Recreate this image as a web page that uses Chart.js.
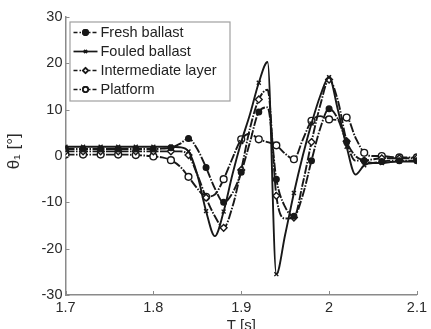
<!DOCTYPE html>
<html>
<head>
<meta charset="utf-8">
<script src="https://cdn.jsdelivr.net/npm/chart.js@4"></script>
<style>
  html, body { margin: 0; padding: 0; background: #fff; }
  #theta_chart { display: block; }
</style>
</head>
<body>
<canvas id="theta_chart" width="431" height="329"></canvas>
<script>
// Time axis (s)
const times = [1.70, 1.71, 1.72, 1.73, 1.74, 1.75, 1.76, 1.77, 1.78, 1.79,
               1.80, 1.81, 1.82, 1.83, 1.84, 1.85, 1.86, 1.87, 1.88, 1.89,
               1.90, 1.91, 1.92, 1.93, 1.94, 1.95, 1.96, 1.97, 1.98, 1.99,
               2.00, 2.01, 2.02, 2.03, 2.04, 2.05, 2.06, 2.07, 2.08, 2.09, 2.10];

// theta_1 in degrees
const fresh_ballast = [1.5, 1.5, 1.5, 1.5, 1.5, 1.5, 1.5, 1.5, 1.5, 1.5,
                       1.5, 1.6, 1.8, 2.6, 3.8, 1.5, -2.5, -7, -10, -8,
                       -3.5, 3, 9.5, 10.5, -5, -11, -13, -8.5, -1, 6,
                       10.2, 8, 3, 0, -1, -1.5, -1.2, -1, -1, -1, -1];
const fouled_ballast = [2, 2, 2, 2, 2, 2, 2, 2, 2, 2,
                        2, 2, 2, 1.9, 1.0, -4, -11.9, -17.3, -12, -4,
                        3, 9, 15.8, 20.3, -25.5, -17, -8, 0, 7, 13,
                        17, 10, 2, -4, -2, -1.5, -1.5, -1.3, -1.2, -1.2, -1.2];
const intermediate_layer = [1, 1, 1, 1, 1, 1, 1, 1, 1, 1,
                            1, 1, 1, 1, 0.2, -4, -9, -13, -15.5, -11,
                            -3, 6, 12.2, 14.3, -8.6, -13.5, -13.3, -6, 3, 11,
                            16.5, 12, 3.2, -1, -1, -0.7, -0.5, -0.5, -0.5, -0.5, -0.5];
const platform = [0.3, 0.3, 0.3, 0.3, 0.3, 0.3, 0.3, 0.3, 0.2, 0.1,
                  -0.1, -0.3, -0.9, -2.2, -4.5, -7, -8.8, -8.3, -5, -0.5,
                  3.6, 4.8, 3.6, 3, 2.3, 0.5, -0.7, 3.5, 7.6, 8.6,
                  7.9, 7.8, 8.3, 4, 0.7, 0, 0, -0.2, -0.3, -0.3, -0.3];

const series_labels = ["Fresh ballast", "Fouled ballast", "Intermediate layer", "Platform"];
const y_ticks = [-30, -20, -10, 0, 10, 20, 30];
const x_ticks = [1.7, 1.8, 1.9, 2.0, 2.1];

const ink = "#181818";
const axis_grey = "#8a8a8a";
const dash_dot = [9, 1.5, 1.5, 1.5];

// markers only on every second sample, like the original plot
function every_other(r) {
  return ctx => (ctx.dataIndex % 2 === 0 ? r : 0);
}

const base_dataset_config = {
  borderColor: ink,
  borderWidth: 1.9,
  pointBorderColor: ink,
  pointBorderWidth: 1.4,
  cubicInterpolationMode: "monotone",
  fill: false
};

function make_points(values) {
  return times.map((t, i) => ({x: t, y: values[i]}));
}

var data = {
  datasets: [{
    ...base_dataset_config,
    label: series_labels[0],
    data: make_points(fresh_ballast),
    borderDash: dash_dot,
    pointStyle: "circle",
    pointBackgroundColor: ink,
    pointRadius: every_other(2.8)
  },
  {
    ...base_dataset_config,
    label: series_labels[1],
    data: make_points(fouled_ballast),
    borderDash: [],
    pointStyle: "crossRot",
    pointBackgroundColor: ink,
    pointRadius: every_other(2.8)
  },
  {
    ...base_dataset_config,
    label: series_labels[2],
    data: make_points(intermediate_layer),
    borderDash: dash_dot,
    pointStyle: "rectRot",
    pointBackgroundColor: "#fff",
    pointRadius: every_other(3.4)
  },
  {
    ...base_dataset_config,
    label: series_labels[3],
    data: make_points(platform),
    borderDash: dash_dot,
    pointStyle: "circle",
    pointBackgroundColor: "#fff",
    pointRadius: every_other(3.4)
  }]
};

// small inward tick marks, matlab style
const inward_ticks = {
  id: "inward_ticks",
  afterDatasetsDraw(chart) {
    const {ctx, chartArea, scales} = chart;
    ctx.save();
    ctx.strokeStyle = axis_grey;
    ctx.lineWidth = 1;
    y_ticks.forEach(v => {
      const y = Math.round(scales.y.getPixelForValue(v)) + 0.5;
      ctx.beginPath();
      ctx.moveTo(chartArea.left, y);
      ctx.lineTo(chartArea.left + 4, y);
      ctx.stroke();
    });
    x_ticks.forEach(v => {
      const x = Math.round(scales.x.getPixelForValue(v)) + 0.5;
      ctx.beginPath();
      ctx.moveTo(x, chartArea.bottom);
      ctx.lineTo(x, chartArea.bottom - 4);
      ctx.stroke();
    });
    ctx.restore();
  }
};

// boxed legend inside the axes, top left
const boxed_legend = {
  id: "boxed_legend",
  afterDraw(chart) {
    const {ctx, chartArea} = chart;
    const left = chartArea.left + 4;
    const top = chartArea.top + 4.5;
    const w = 160, row = 19;
    ctx.save();
    ctx.fillStyle = "#fff";
    ctx.fillRect(left, top, w, row * 4 + 3);
    ctx.strokeStyle = "#a0a0a0";
    ctx.lineWidth = 1.2;
    ctx.strokeRect(left + 0.5, top + 0.5, w, row * 4 + 3);
    ctx.font = "14.5px 'Liberation Sans', Arial, sans-serif";
    ctx.textBaseline = "middle";
    chart.data.datasets.forEach((ds, i) => {
      const y = top + 11 + i * row;
      ctx.strokeStyle = ink;
      ctx.lineWidth = 1.7;
      ctx.setLineDash(i === 1 ? [] : [4, 2, 1.5, 2]);
      ctx.beginPath();
      ctx.moveTo(left + 4, y);
      ctx.lineTo(left + 28, y);
      ctx.stroke();
      ctx.setLineDash([]);
      Chart.helpers.drawPoint(ctx, {
        pointStyle: ds.pointStyle,
        radius: i === 1 ? 2 : 2.6,
        rotation: 0,
        borderWidth: 1.2
      }, left + 16, y);
      ctx.fillStyle = ds.pointBackgroundColor;
      ctx.strokeStyle = ink;
      ctx.fill();
      ctx.stroke();
      ctx.fillStyle = "#222";
      ctx.fillText(ds.label, left + 31, y + 0.5);
    });
    ctx.restore();
  }
};

const tick_font = { size: 14.5, family: "'Liberation Sans', Arial, sans-serif" };

var options = {
  responsive: false,
  animation: false,
  layout: { padding: { left: 4, top: 17, right: 11, bottom: 0 } },
  plugins: {
    legend: { display: false },
    tooltip: { enabled: false }
  },
  scales: {
    x: {
      type: "linear",
      min: 1.7,
      max: 2.1,
      afterFit: s => { s.height = 34; },
      afterBuildTicks: s => { s.ticks = x_ticks.map(v => ({value: v})); },
      grid: { display: false, drawTicks: false },
      border: { display: true, color: axis_grey, width: 1.5 },
      ticks: {
        color: "#2a2a2a",
        font: tick_font,
        padding: 4,
        maxRotation: 0,
        callback: v => String(Number(v.toFixed(1)))
      },
      title: {
        display: true,
        text: "T [s]",
        color: "#2a2a2a",
        font: { size: 15, family: "'Liberation Sans', Arial, sans-serif" },
        padding: { top: 0, bottom: -6 }
      }
    },
    y: {
      min: -30,
      max: 30,
      afterFit: s => { s.width = 61.5; },
      afterBuildTicks: s => { s.ticks = y_ticks.map(v => ({value: v})); },
      grid: { display: false, drawTicks: false },
      border: { display: true, color: axis_grey, width: 1.5 },
      ticks: {
        color: "#2a2a2a",
        font: tick_font,
        padding: 3
      },
      title: {
        display: true,
        text: "  θ₁ [°]",
        color: "#2a2a2a",
        font: { size: 17, family: "'Liberation Sans', 'DejaVu Sans', sans-serif" },
        padding: { top: 0, bottom: 4 }
      }
    }
  }
};

new Chart(document.getElementById("theta_chart").getContext("2d"), {
  type: "line",
  data: data,
  options: options,
  plugins: [inward_ticks, boxed_legend]
});
</script>
</body>
</html>
